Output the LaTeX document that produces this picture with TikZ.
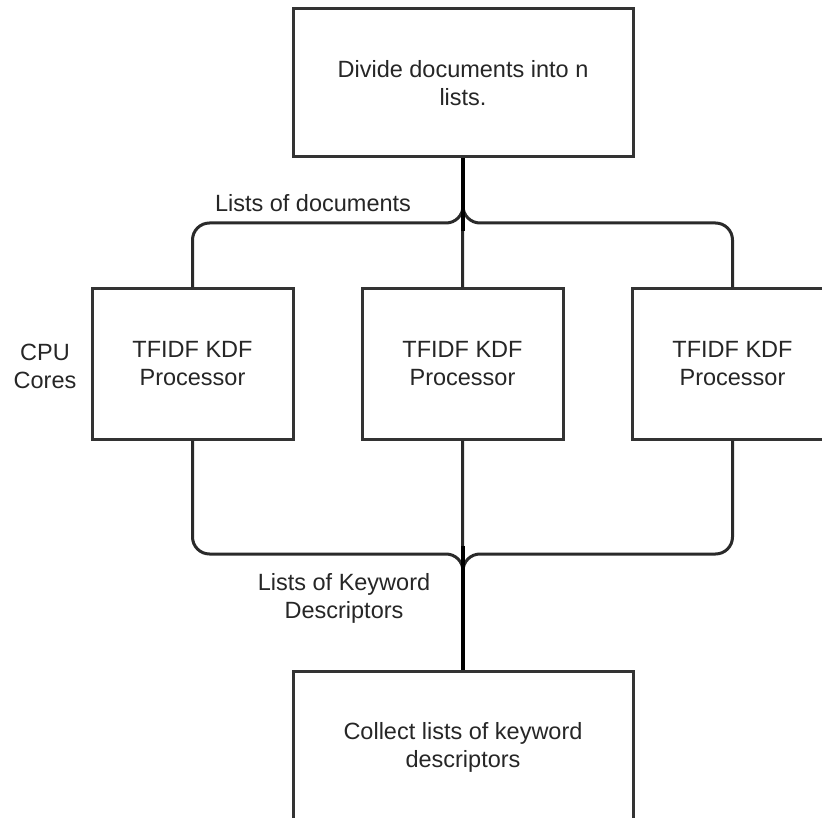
\documentclass[tikz,border=0pt]{standalone}
\usepackage{fontspec}
\setmainfont{Liberation Sans}
\definecolor{boxc}{HTML}{333333}
\definecolor{linec}{HTML}{2A2A2A}
\begin{document}
\begin{tikzpicture}[x=1pt,y=-1pt,
  txt/.style={font=\fontsize{23.5}{28}\selectfont, text=black!85, align=center},
  box/.style={txt, draw=boxc, line width=3pt, fill=white, inner sep=0pt},
  smallbox/.style={box, minimum width=201pt, minimum height=150pt},
  bigbox/.style={box, minimum width=340pt, minimum height=148pt},
  conn/.style={draw=linec, line width=3pt, rounded corners=17pt}]
\useasboundingbox (0,0) rectangle (822,818);
\clip (0,0) rectangle (822,818);
\fill[white] (0,0) rectangle (822,818);
% boxes
\node[bigbox] (top) at (463,83) {Divide documents into n\\lists.};
\node[smallbox] (p1) at (192.5,364) {TFIDF KDF\\Processor};
\node[smallbox] (p2) at (462.5,364) {TFIDF KDF\\Processor};
\node[smallbox] (p3) at (732.5,364) {TFIDF KDF\\Processor};
\node[bigbox, minimum height=152pt] (bot) at (463,747) {Collect lists of keyword\\descriptors};
% labels
\node[txt] (l1) at (313,203) {Lists of documents};
\node[txt] (l2) at (45,366) {CPU\\Cores};
\node[txt] (l3) at (344,598) {Lists of Keyword\\Descriptors};
% split coordinates
\coordinate (s1) at (463,223);
\coordinate (s2) at (463,554);
% connectors top
\draw[conn] (top.south) -- (s1) -- (s1 -| p1.north) -- (p1.north);
\draw[conn] (top.south) -- (s1) -- (s1 -| p3.north) -- (p3.north);
\draw[conn] (top.south) -- (p2.north);
\draw[draw=black, line width=4.5pt] (top.south) -- ([yshift=-8pt]s1);
% connectors bottom
\draw[conn] (p1.south) -- (p1.south |- s2) -- (s2) -- (bot.north);
\draw[conn] (p3.south) -- (p3.south |- s2) -- (s2) -- (bot.north);
\draw[conn] (p2.south) -- (bot.north);
\draw[draw=black, line width=4.5pt] ([yshift=8pt]s2) -- (bot.north);
\end{tikzpicture}
\end{document}
